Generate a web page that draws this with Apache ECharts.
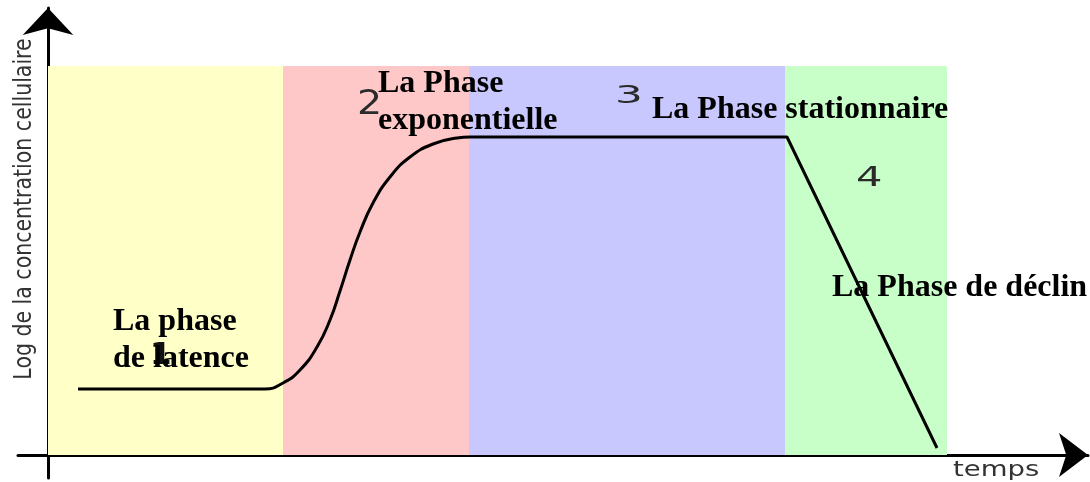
<!DOCTYPE html>
<html>
<head>
    <meta charset="utf-8">
    <script src="https://cdn.jsdelivr.net/npm/echarts@6/dist/echarts.min.js"></script>
</head>
<body style="margin:0;background:#fff;">
    <div id="main" style="width: 1090px;height:482px;"></div>
    <script type="text/javascript">
        // limites des phases (temps) et hauteur des bandes
        var phaseBounds = [0, 23.5, 42.1, 73.7, 89.9];
        var phaseColors = ['#ffffc8', '#ffc8c8', '#c8c8ff', '#c8ffc8'];
        var bandTop = 38.9;

        // courbe de croissance : [temps, log concentration]
        var growthCurve = [
            [3, 6.6], [21.7, 6.6], [23.5, 7.2], [25.2, 8.5], [26.9, 10.8],
            [28.2, 13.5], [29.2, 16.4], [30.2, 19.5], [31.2, 22.3], [32.5, 25.2],
            [34.2, 27.8], [36.2, 29.8], [38.5, 31.1], [40.9, 31.7], [42.2, 31.8]
        ];
        var plateauDecline = [
            [42.2, 31.8], [73.9, 31.8], [88.9, 0.7]
        ];

        var phaseNames = ['La phase\nde latence', 'La Phase\nexponentielle', 'La Phase stationnaire', 'La Phase de déclin'];
        var phaseNumbers = ['1', '2', '3', '4'];
        var xTitle = 'temps';
        var yTitle = 'Log de la concentration cellulaire';

        var myChart = echarts.init(document.getElementById('main'));

        var bands = [];
        for (var i = 0; i < phaseColors.length; i++) {
            bands.push([
                { xAxis: phaseBounds[i], yAxis: bandTop, itemStyle: { color: phaseColors[i] } },
                { xAxis: phaseBounds[i + 1], yAxis: 0 }
            ]);
        }

        var serif = 'bold 32px "Liberation Serif", "Times New Roman", serif';
        function label(text, x, y) {
            return {
                type: 'text', x: x, y: y, z: 100,
                style: { text: text, font: serif, fill: '#000', lineHeight: 37 }
            };
        }
        function digit(text, x, y, size, sx, weight) {
            return {
                type: 'text', x: x, y: y, scaleX: sx, z: 99,
                style: { text: text, font: (weight || 'normal') + ' ' + size + 'px "DejaVu Sans", sans-serif', fill: weight ? '#111' : '#2a2a2a' }
            };
        }

        var option = {
            animation: false,
            grid: { left: 18, right: 2, top: 8, bottom: 4 },
            xAxis: {
                type: 'value', min: -3, max: 104,
                axisLine: {
                    onZero: true, symbol: ['none', 'arrow'], symbolSize: [33, 29],
                    lineStyle: { color: '#000', width: 3 }
                },
                axisTick: { show: false }, axisLabel: { show: false }, splitLine: { show: false }
            },
            yAxis: {
                type: 'value', min: -2.3, max: 44.7,
                axisLine: {
                    onZero: true, symbol: ['none', 'arrow'], symbolSize: [38, 27],
                    lineStyle: { color: '#000', width: 3 }
                },
                axisTick: { show: false }, axisLabel: { show: false }, splitLine: { show: false }
            },
            series: [
                {
                    type: 'line', data: growthCurve, smooth: 0.5,
                    showSymbol: false, symbol: 'none',
                    lineStyle: { color: '#000', width: 3 },
                    markArea: { silent: true, data: bands }
                },
                {
                    type: 'line', data: plateauDecline, showSymbol: false, symbol: 'none',
                    lineStyle: { color: '#000', width: 3 }
                }
            ],
            graphic: [
                digit(phaseNumbers[0], 150, 340, 31, 1, 'bold'),
                digit(phaseNumbers[1], 357, 89, 33, 1.2),
                digit(phaseNumbers[2], 615, 84, 25, 1.75),
                digit(phaseNumbers[3], 856, 166, 26, 1.6),
                label(phaseNames[0], 113, 303),
                label(phaseNames[1], 378, 65),
                label(phaseNames[2], 652, 91),
                label(phaseNames[3], 832, 269),
                {
                    type: 'text', x: 953, y: 459, scaleX: 1.25,
                    style: { text: xTitle, font: '22px "DejaVu Sans", sans-serif', fill: '#333' }
                },
                {
                    type: 'text', x: 25, y: 209, rotation: Math.PI / 2, scaleY: 1.2,
                    style: {
                        text: yTitle, font: '20.5px "DejaVu Sans", sans-serif', fill: '#333',
                        align: 'center', verticalAlign: 'middle'
                    }
                }
            ]
        };

        myChart.setOption(option);
    </script>
</body>
</html>
